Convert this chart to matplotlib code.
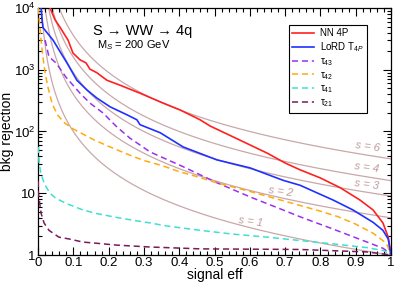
import matplotlib
matplotlib.use("Agg")
import matplotlib.pyplot as plt
from matplotlib.ticker import FixedLocator, MultipleLocator, LogLocator, NullFormatter

plt.rcParams['font.family'] = ['Liberation Sans', 'DejaVu Sans']
plt.rcParams['mathtext.fontset'] = 'custom'
plt.rcParams['mathtext.rm'] = 'Liberation Sans'
plt.rcParams['mathtext.it'] = 'Liberation Sans:italic'

# ROC curves: signal efficiency vs log10(background rejection)
nn_eff = [0.034, 0.048, 0.062, 0.085, 0.099, 0.119, 0.136, 0.147, 0.167, 0.195, 0.232, 0.289,
          0.346, 0.402, 0.459, 0.487, 0.572, 0.649, 0.700, 0.742, 0.799, 0.856, 0.912, 0.949,
          0.977, 0.992, 1.0]
nn_logrej = [4.0, 3.81, 3.69, 3.48, 3.27, 3.16, 3.11, 3.01, 2.95, 2.83, 2.75, 2.62,
             2.48, 2.35, 2.19, 2.09, 1.86, 1.65, 1.49, 1.38, 1.25, 1.09, 0.89, 0.73,
             0.52, 0.29, 0.0]

lord_eff = [0.0085, 0.0113, 0.0142, 0.0255, 0.0425, 0.068, 0.082, 0.110, 0.139, 0.167, 0.204,
            0.252, 0.280, 0.289, 0.346, 0.411, 0.507, 0.601, 0.694, 0.742, 0.836, 0.892,
            0.949, 0.977, 0.992, 1.0]
lord_logrej = [4.0, 3.81, 3.68, 3.60, 3.48, 3.24, 3.11, 2.83, 2.67, 2.54, 2.40,
               2.27, 2.19, 2.11, 1.98, 1.75, 1.54, 1.41, 1.21, 1.13, 0.89, 0.73,
               0.53, 0.40, 0.26, 0.0]

t43_eff = [0.020, 0.031, 0.051, 0.079, 0.119, 0.147, 0.184, 0.224, 0.261, 0.297, 0.317, 0.411,
           0.507, 0.601, 0.694, 0.742, 0.836, 0.932, 0.977, 0.997, 1.0]
t43_logrej = [3.48, 3.21, 3.11, 2.88, 2.62, 2.46, 2.30, 2.07, 1.89, 1.75, 1.67, 1.43,
              1.17, 0.94, 0.73, 0.62, 0.42, 0.21, 0.11, 0.03, 0.0]

t42_eff = [0.0005, 0.003, 0.0085, 0.014, 0.02, 0.028, 0.04, 0.055, 0.075, 0.10, 0.13, 0.16, 0.20,
           0.25, 0.30, 0.35, 0.40, 0.45, 0.50, 0.60, 0.70, 0.80, 0.85, 0.90, 0.95, 0.98,
           0.99, 1.0]
t42_logrej = [4.0, 3.85, 3.48, 3.2, 2.95, 2.72, 2.45, 2.27, 2.14, 2.04, 1.95, 1.86, 1.76,
              1.64, 1.53, 1.45, 1.35, 1.27, 1.18, 1.03, 0.87, 0.71, 0.62, 0.50, 0.35, 0.22,
              0.15, 0.0]

t41_eff = [0.001, 0.003, 0.008, 0.014, 0.02, 0.034, 0.05, 0.082, 0.127, 0.167, 0.24, 0.317,
           0.365, 0.459, 0.55, 0.649, 0.75, 0.836, 0.932, 0.98, 1.0]
t41_logrej = [1.75, 1.5, 1.32, 1.22, 1.13, 1.0, 0.92, 0.83, 0.73, 0.67, 0.59, 0.52,
              0.47, 0.40, 0.34, 0.29, 0.23, 0.18, 0.12, 0.07, 0.0]

t21_eff = [0.0005, 0.001, 0.0085, 0.017, 0.031, 0.059, 0.088, 0.127, 0.167, 0.224, 0.317, 0.459,
           0.742, 0.932, 1.0]
t21_logrej = [1.2, 1.0, 0.68, 0.52, 0.40, 0.29, 0.26, 0.21, 0.19, 0.16, 0.13, 0.10,
              0.09, 0.05, 0.0]

# significance contours: s = eff * sqrt(rejection)
sig_values = [1, 2, 3, 4, 6]
sig_label_pos = {1: (0.601, 3.5), 2: (0.688, 10.5), 3: (0.932, 13.5), 4: (0.932, 25.7), 6: (0.935, 56)}

brown = '#c8a8a8'

fig = plt.figure(figsize=(3.94, 2.84), dpi=100)
ax = fig.add_axes([0.0965, 0.102, 0.896, 0.870])

for s in sig_values:
    eff = [s / 100.0 + (1 - s / 100.0) * k / 400 for k in range(401)]
    rej_line = [(s / x) ** 2 for x in eff]
    ax.plot(eff, rej_line, color=brown, lw=0.9, zorder=1)
    tx, ty = sig_label_pos[s]
    ax.text(tx, ty, 's = %d' % s, color='#c09c9c', fontsize=8, style='italic',
            ha='center', va='center', rotation=-8, zorder=1)


def rej(logs):
    return [10 ** v for v in logs]


dash = (0, (4, 2.5))
ax.plot(nn_eff, rej(nn_logrej), color='#ff2020', lw=1.2, label='NN 4P', zorder=5)
ax.plot(lord_eff, rej(lord_logrej), color='#2030ff', lw=1.2, label='LoRD T$_{4P}$', zorder=5)
ax.plot(t43_eff, rej(t43_logrej), color='#9a30f0', lw=1.1, ls=dash, label='τ$_{43}$', zorder=4)
ax.plot(t42_eff, rej(t42_logrej), color='#ffaa10', lw=1.1, ls=dash, label='τ$_{42}$', zorder=4)
ax.plot(t41_eff, rej(t41_logrej), color='#40e0d0', lw=1.1, ls=dash, label='τ$_{41}$', zorder=4)
ax.plot(t21_eff, rej(t21_logrej), color='#7a1a5a', lw=1.1, ls=dash, label='τ$_{21}$', zorder=4)

ax.set_yscale('log')
ax.set_xlim(0, 1)
ax.set_ylim(1, 1e4)

ax.set_xticks([0, 0.1, 0.2, 0.3, 0.4, 0.5, 0.6, 0.7, 0.8, 0.9, 1.0])
ax.set_xticklabels(['0', '0.1', '0.2', '0.3', '0.4', '0.5', '0.6', '0.7', '0.8', '0.9', '1'])
ax.xaxis.set_minor_locator(MultipleLocator(0.02))
ax.yaxis.set_major_locator(FixedLocator([1, 10, 100, 1000, 10000]))
ax.yaxis.set_minor_locator(LogLocator(base=10, subs=range(2, 10)))
ax.yaxis.set_minor_formatter(NullFormatter())
ax.set_yticklabels(['1', '10', '10$^2$', '10$^3$', '10$^4$'])

ax.tick_params(which='both', direction='in', top=True, right=True, labelsize=9.5, width=0.8)
ax.tick_params(which='major', length=6, pad=1.5)
ax.tick_params(which='minor', length=3)
for sp in ax.spines.values():
    sp.set_linewidth(0.9)

ax.set_xlabel('signal eff', fontsize=10, labelpad=-1)
ax.set_ylabel('bkg rejection', fontsize=10, labelpad=0)

ax.text(0.156, 0.905, 'S → WW → 4q', transform=ax.transAxes, fontsize=10.5, va='center')
ax.text(0.167, 0.848, 'M$_S$ = 200 GeV', transform=ax.transAxes, fontsize=8, va='center')

leg = ax.legend(loc='upper right', bbox_to_anchor=(0.932, 0.931), fontsize=7, frameon=True,
                fancybox=False, edgecolor='black', framealpha=1, handlelength=2.2,
                borderpad=0.35, labelspacing=0.2, handletextpad=0.6, borderaxespad=0)
leg.get_frame().set_linewidth(0.8)

fig.savefig('out.png', dpi=100)
